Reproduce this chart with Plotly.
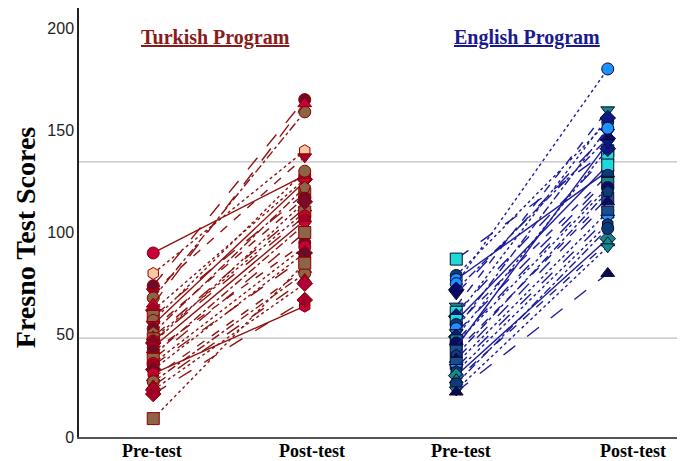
import plotly.graph_objects as go

# scores per participant, pre-test -> post-test
turkish_pre = [90, 80, 74, 71, 68, 65, 62, 59, 57, 55, 53, 51, 49, 48, 47,
               46, 44, 42, 40, 38, 36, 35, 33, 31, 29, 27, 25, 23, 21, 9]
turkish_post = [128, 140, 165, 137, 159, 163, 126, 119, 130, 125, 117, 122, 112, 110, 108,
                115, 106, 95, 104, 100, 93, 88, 90, 64, 82, 80, 77, 75, 67, 85]

english_pre = [87, 79, 77, 75, 72, 70, 64, 61, 59, 57, 55, 53, 51, 49,
               47, 46, 44, 42, 40, 38, 36, 34, 32, 30, 28, 26, 23, 22]
english_post = [140, 154, 130, 180, 146, 149, 160, 138, 156, 133, 128, 151, 126, 141,
                124, 122, 144, 117, 120, 115, 110, 107, 104, 97, 95, 102, 93, 80]

reference_lines = [134.5, 48.4]
x_labels = ["Pre-test", "Post-test", "Pre-test", "Post-test"]
group_titles = ["Turkish Program", "English Program"]

# styles, one per participant
tr_dashes = ["solid", "dot", "longdash", "dash", "dashdot", "longdash", "dot",
             "longdash", "dot", "solid", "dash", "dashdot", "longdash", "dot",
             "longdash", "dot", "solid", "dash", "dashdot", "longdash", "dot",
             "longdash", "dot", "solid", "dash", "dashdot", "longdash", "dot",
             "longdash", "dot"]
en_dashes = ["longdash", "dot", "solid", "dot", "dashdot", "longdash", "dash",
             "longdash", "dot", "solid", "dash", "dashdot", "longdash", "dot",
             "longdash", "dot", "solid", "dash", "dashdot", "longdash", "dot",
             "longdash", "dot", "solid", "dash", "dashdot", "dot", "longdash"]
tr_symbols = ["circle", "hexagon", "circle", "triangle-down", "circle", "triangle-up",
              "diamond", "square", "circle", "triangle-down", "circle", "pentagon",
              "triangle-up", "square", "circle", "diamond", "circle", "circle",
              "triangle-down", "square", "circle", "circle", "diamond", "hexagon",
              "triangle-up", "circle", "triangle-up", "diamond", "diamond", "square"]
tr_fill = ["#C8003C", "#F8C8A0", "#6E0A28", "#A0002A", "#8C6446", "#C8003C",
           "#A0002A", "#8C6446", "#8C6446", "#C8003C", "#6E0A28", "#8C6446",
           "#A0002A", "#8C6446", "#C8003C", "#7A0A2A", "#A0002A", "#6E0A28",
           "#C8003C", "#8C6446", "#C8003C", "#A0002A", "#6E0A28", "#C8003C",
           "#C8003C", "#8C6446", "#A0002A", "#B0003A", "#A0002A", "#8C6446"]
en_symbols = ["square", "circle", "circle", "circle", "diamond", "triangle-down",
              "triangle-down", "square", "diamond", "square", "circle", "circle",
              "triangle-down", "diamond", "square", "circle", "triangle-down", "square",
              "pentagon", "triangle-up", "square", "triangle-down", "hexagon", "diamond",
              "triangle-up", "circle", "triangle-down", "triangle-up"]
en_fill = ["#20D8D8", "#0B3C7A", "#1E90FF", "#1E90FF", "#0A0A6E", "#0A0A6E",
           "#138A8A", "#20D8D8", "#0A1A80", "#20D8D8", "#0B3C7A", "#1E90FF",
           "#138A8A", "#0A1A80", "#138A8A", "#0A0A6E", "#0A1A80", "#1A4F8F",
           "#0B3C7A", "#0A0A6E", "#1A4F8F", "#1E90FF", "#0B3C7A", "#138A8A",
           "#138A8A", "#0B3C7A", "#138A8A", "#0A0A50"]

fig = go.Figure()


def add_group(pre, post, x0, line_col, dashes, symbols, fills, edge):
    for i, (a, b) in enumerate(zip(pre, post)):
        fig.add_trace(go.Scatter(
            x=[x0, x0 + 1], y=[a, b], mode="lines+markers", showlegend=False,
            line=dict(color=line_col, width=1.4, dash=dashes[i]),
            marker=dict(symbol=symbols[i], size=12, color=fills[i],
                        line=dict(color=edge, width=1))))


add_group(turkish_pre, turkish_post, 1, "#8E1212", tr_dashes, tr_symbols, tr_fill, "#8B0000")
add_group(english_pre, english_post, 3, "#1C1C9C", en_dashes, en_symbols, en_fill, "#0A0A30")

for v in reference_lines:
    fig.add_shape(type="line", xref="paper", x0=0, x1=1, y0=v, y1=v,
                  line=dict(color="#BEBEBE", width=1.3), layer="below")

label_x = [0.99, 2.05, 3.03, 4.17]
for lx, t in zip(label_x, x_labels):
    fig.add_annotation(x=lx, y=0, yref="paper", yanchor="top", yshift=-2,
                       text="<b>" + t + "</b>", showarrow=False,
                       font=dict(family="Liberation Serif", size=18, color="black"))

for gx, t, c in zip([1.41, 3.47], group_titles, ["#8B1A1A", "#1A1A8C"]):
    fig.add_annotation(x=gx, y=195.6, text="<b><u>" + t + "</u></b>", showarrow=False,
                       font=dict(family="Liberation Serif", size=20, color=c))

fig.add_annotation(xref="paper", yref="paper", x=-0.089, y=0.466, xanchor="center",
                   yanchor="middle", text="<b>Fresno Test Scores</b>", textangle=-90,
                   showarrow=False,
                   font=dict(family="Liberation Serif", size=28, color="black"))

fig.update_layout(
    width=677, height=453,
    margin=dict(l=71, r=0, t=0, b=24),
    plot_bgcolor="white", paper_bgcolor="white",
    xaxis=dict(range=[0.51, 4.51], showticklabels=False, showgrid=False,
               zeroline=False, showline=True, linecolor="#555555", linewidth=1.5),
    yaxis=dict(range=[0, 209.8], tickvals=[0, 50, 100, 150, 200], showgrid=False,
               zeroline=False, showline=True, linecolor="#222222", linewidth=1.5,
               ticks="", tickfont=dict(family="Liberation Sans", size=16, color="#222222")),
)

fig.write_html("out.html")
